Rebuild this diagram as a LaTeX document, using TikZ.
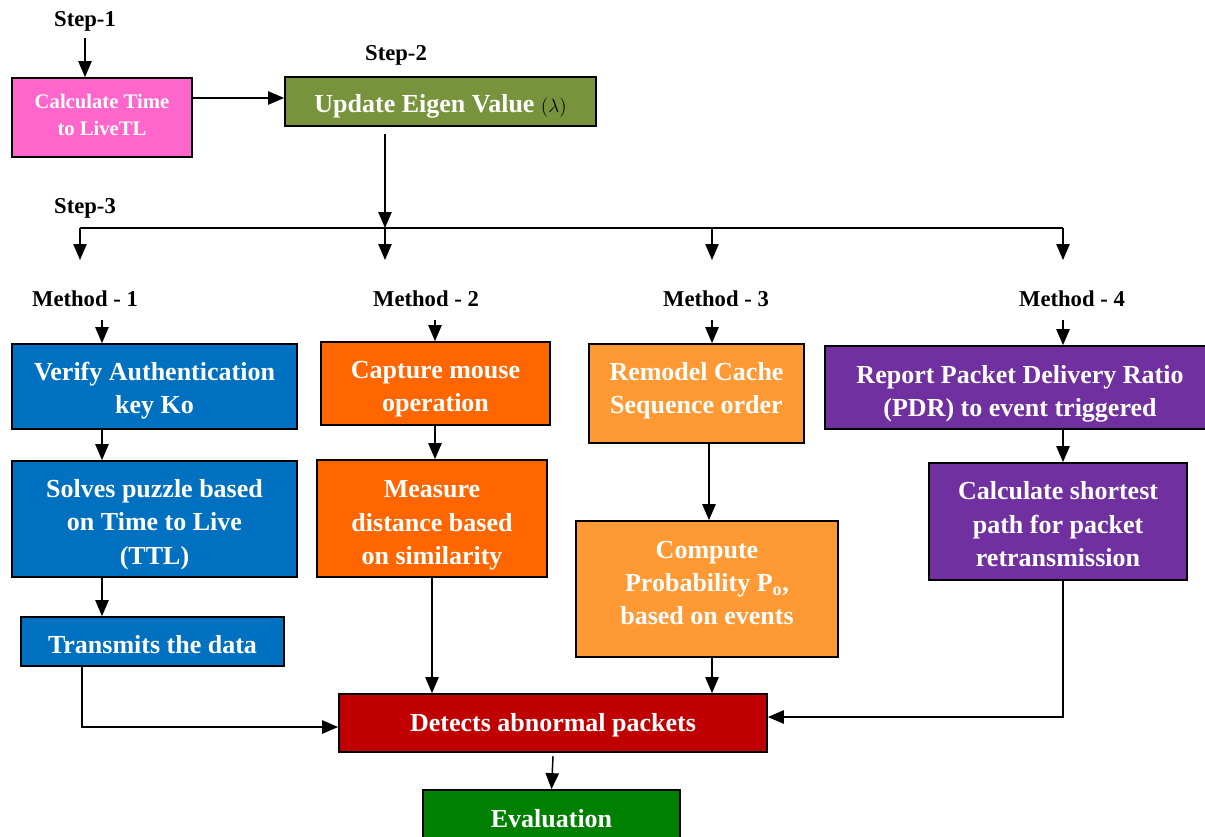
\documentclass[tikz,border=0pt]{standalone}
\usepackage{fontspec}
\setmainfont{Liberation Serif}
\usetikzlibrary{arrows.meta}
\definecolor{cpink}{HTML}{FF66CC}
\definecolor{colive}{HTML}{77933C}
\definecolor{cblue}{HTML}{0070C0}
\definecolor{corange}{HTML}{FF6600}
\definecolor{clorange}{HTML}{FF9933}
\definecolor{cpurple}{HTML}{7030A0}
\definecolor{cred}{HTML}{C00000}
\definecolor{cgreen}{HTML}{008000}
\begin{document}
\begin{tikzpicture}[x=0.75pt,y=-0.75pt,
  box/.style={draw=black, line width=1.3pt, text=white, align=center, inner sep=0pt,
    font=\fontsize{19.5}{25}\selectfont\bfseries},
  wh/.style 2 args={minimum width=#1*0.75pt, minimum height=#2*0.75pt},
  lbl/.style={font=\fontsize{17}{20}\selectfont\bfseries, inner sep=0pt},
  arr/.style={line width=1.1pt, -{Triangle[length=12pt,width=10pt]}},
  ln/.style={line width=1.1pt}]
\useasboundingbox (0,0) rectangle (1205,836);

% labels
\node[lbl] (step1) at (85,21) {Step-1};
\node[lbl] (step2) at (396,55) {Step-2};
\node[lbl] (step3) at (85,208) {Step-3};
\node[lbl] (m1) at (85,299) {Method - 1};
\node[lbl] (m2) at (426,299) {Method - 2};
\node[lbl] (m3) at (716,299) {Method - 3};
\node[lbl] (m4) at (1072,299) {Method - 4};

% boxes
\node[box, fill=cpink, wh={180}{79}, text depth=3.8pt, font=\fontsize{15.5}{20}\selectfont\bfseries] (calc) at (102,117.5) {Calculate Time\\to LiveTL};
\node[box, fill=colive, wh={311}{49}, text depth=0pt, text height=16.2pt] (eigen) at (440.5,101.5) {Update Eigen Value {\color{black}\fontsize{14}{14}\selectfont$(\lambda)$}};

\node[box, fill=cblue, wh={285}{85}, text depth=0pt, text height=40.4pt] (verify) at (154.5,386.5) {Verify Authentication\\key Ko};
\node[box, fill=cblue, wh={285}{116}, text depth=0pt, text height=67.7pt] (solves) at (154.5,519) {Solves puzzle based\\on Time to Live\\(TTL)};
\node[box, fill=cblue, wh={263}{49}, text depth=0pt, text height=17.7pt] (transmit) at (152.5,641.5) {Transmits the data};

\node[box, fill=corange, wh={229}{83}, text depth=0pt, text height=42.7pt] (capture) at (435.5,383.5) {Capture mouse\\operation};
\node[box, fill=corange, wh={230}{117}, text depth=0pt, text height=69.2pt] (measure) at (432,518.5) {Measure\\distance based\\on similarity};

\node[box, fill=clorange, wh={215}{99}, text depth=8pt] (remodel) at (696.5,393.5) {Remodel Cache\\Sequence order};
\node[box, fill=clorange, wh={262}{136}, text depth=9pt] (compute) at (707,589) {Compute\\Probability P\textsubscript{o},\\based on events};

\node[box, fill=cpurple, wh={390}{83}, text depth=0pt, text height=44.2pt] (report) at (1020,387.5) {Report Packet Delivery Ratio\\(PDR) to event triggered};
\node[box, fill=cpurple, wh={258}{117}, text depth=0pt, text height=67.7pt] (calcsp) at (1058,521.5) {Calculate shortest\\path for packet\\retransmission};

\node[box, fill=cred, wh={428}{58}, text depth=1.2pt] (detect) at (553,723) {Detects abnormal packets};
\node[box, fill=cgreen, wh={257}{60}, text depth=3pt] (eval) at (551.5,820) {Evaluation};

% helper coordinates
\coordinate (s1a) at (85,38);
\coordinate (c2e) at (192,98);
\coordinate (e1) at (385,134);
\coordinate (b1) at (80,228);
\coordinate (b2) at (385,228);
\coordinate (b3) at (712,228);
\coordinate (b4) at (1063,228);
\coordinate (x102) at (102,320);
\coordinate (x435) at (435,320);
\coordinate (x712) at (712,320);
\coordinate (x1063) at (1063,320);
\coordinate (x709) at (709,0);
\coordinate (t1) at (82,727);
\coordinate (c4) at (1063,717);

% top connectors
\draw[arr] (s1a) -- (s1a |- calc.north);
\draw[arr] (c2e) -- (c2e -| eigen.west);
\draw[arr] (e1) -- (b2);
\draw[ln] (b1) -- (b4);
\foreach \b in {b1,b2,b3,b4} \draw[arr] (\b) -- ++(0,32);

% method label arrows
\draw[arr] (x102) -- (x102 |- verify.north);
\draw[arr] (x435) -- (x435 |- capture.north);
\draw[arr] (x712) -- (x712 |- remodel.north);
\draw[arr] (x1063) -- (x1063 |- report.north);

% inside columns
\draw[arr] (verify.south -| x102) -- (solves.north -| x102);
\draw[arr] (solves.south -| x102) -- (transmit.north -| x102);
\draw[arr] (capture.south -| x435) -- (measure.north -| x435);
\draw[arr] (remodel.south -| x709) -- (compute.north -| x709);
\draw[arr] (report.south -| x1063) -- (calcsp.north -| x1063);

% to detect
\draw[arr] (transmit.south -| t1) -- (t1) -- (t1 -| detect.west);
\draw[arr] (measure.south) -- (measure.south |- detect.north);
\draw[arr] (compute.south -| x712) -- (x712 |- detect.north);
\draw[arr] (calcsp.south -| c4) -- (c4) -- (c4 -| detect.east);
\draw[arr] ([yshift=-2.5pt]detect.south) -- (eval.north);
\end{tikzpicture}
\end{document}
